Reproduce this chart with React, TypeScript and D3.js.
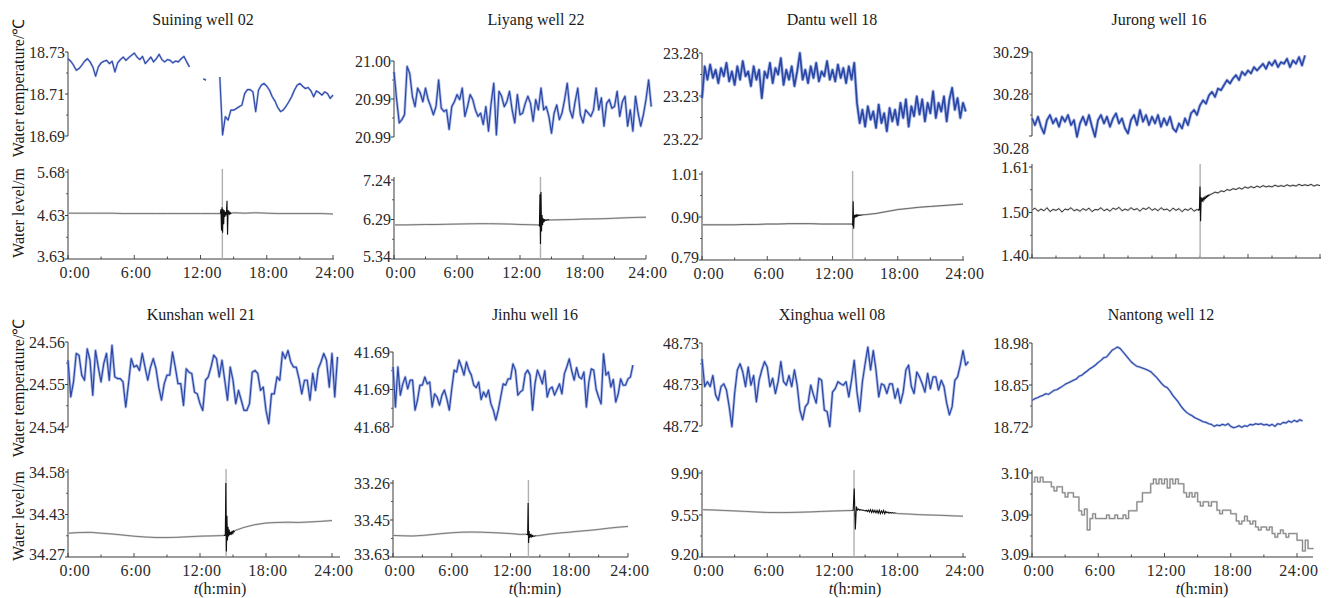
import React from "react";
import * as d3 from "d3";

// ---------------- DATA ----------------
const wellNames = [
  "Suining well 02", "Liyang well 22", "Dantu well 18", "Jurong well 16",
  "Kunshan well 21", "Jinhu well 16", "Xinghua well 08", "Nantong well 12",
];
const timeTickHours = [0, 6, 12, 18, 24];
const timeTickLabels = ["0:00", "6:00", "12:00", "18:00", "24:00"];

const tempTickLabels = [
  ["18.73", "18.71", "18.69"], ["21.00", "20.99", "20.99"], ["23.28", "23.23", "23.22"], ["30.29", "30.28", "30.28"],
  ["24.56", "24.55", "24.54"], ["41.69", "41.69", "41.68"], ["48.73", "48.73", "48.72"], ["18.98", "18.85", "18.72"],
];
const levelTickLabels = [
  ["5.68", "4.63", "3.63"], ["7.24", "6.29", "5.34"], ["1.01", "0.90", "0.79"], ["1.61", "1.50", "1.40"],
  ["34.58", "34.43", "34.27"], ["33.26", "33.45", "33.63"], ["9.90", "9.55", "9.20"], ["3.10", "3.09", "3.09"],
];
// [bottom, top]
const tempDomains = [
  [18.69, 18.73], [20.986, 21.0], [23.22, 23.24], [30.27, 30.29],
  [24.54, 24.56], [41.682, 41.694], [48.722, 48.734], [18.72, 18.98],
];
const levelDomains = [
  [3.63, 5.68], [5.34, 7.24], [0.79, 1.01], [1.4, 1.61],
  [34.27, 34.58], [33.63, 33.26], [9.2, 9.9], [3.086, 3.1],
];
const quakeHours = [13.98, 13.95, 13.85, 14.01, 14.37, 13.83, 13.98, null];

// water temperature, every 0.25 h from 0:00
const suiningTemp = [
  18.7268, 18.7256, 18.7237, 18.7213, 18.7221, 18.7237, 18.7256, 18.7268, 18.7253, 18.7229,
  18.7185, 18.7229, 18.7248, 18.7256, 18.726, 18.7245, 18.7256, 18.7205, 18.7248, 18.7264,
  18.7276, 18.726, 18.7273, 18.7284, 18.7295, 18.7276, 18.7264, 18.7279, 18.7245, 18.726,
  18.7276, 18.7253, 18.7268, 18.7289, 18.7264, 18.7253, 18.7264, 18.726, 18.7248, 18.7257,
  18.7253, 18.7268, 18.7279, 18.7253, 18.7229, null, null, null, null, 18.7173,
  18.7166, null, null, null, null, 18.7181, 18.6905, 18.6992, 18.6976, 18.7023,
  18.7023, 18.7031, 18.7039, 18.7047, 18.7102, 18.7121, 18.7121, 18.711, 18.7016, 18.7118,
  18.7142, 18.715, 18.7137, 18.7118, 18.7087, 18.7066, 18.7036, 18.7016, 18.7024, 18.7042,
  18.7063, 18.7087, 18.7118, 18.7142, 18.715, 18.7137, 18.7126, 18.7131, 18.7115, 18.7087,
  18.7115, 18.7106, 18.7095, 18.711, 18.7102, 18.7079, 18.7095,
];
const liyangTemp = [
  20.998, 20.9929, 20.9886, 20.9892, 20.9901, 20.999, 20.9977, 20.9935, 20.9916, 20.995,
  20.9941, 20.9925, 20.995, 20.9929, 20.9916, 20.9901, 20.9916, 20.9965, 20.9913, 20.9907,
  20.991, 20.9874, 20.9916, 20.9925, 20.9938, 20.9929, 20.995, 20.9898, 20.9916, 20.9938,
  20.9929, 20.991, 20.9898, 20.9904, 20.9883, 20.9916, 20.9871, 20.9922, 20.9959, 20.9864,
  20.9944, 20.9935, 20.9916, 20.9925, 20.9944, 20.991, 20.9886, 20.9938, 20.9901, 20.9904,
  20.9922, 20.9935, 20.9922, 20.9889, 20.9929, 20.991, 20.995, 20.991, 20.9916, 20.9898,
  20.9867, 20.9904, 20.9919, 20.9892, 20.9904, 20.9929, 20.9959, 20.991, 20.9895, 20.9925,
  20.995, 20.9901, 20.9886, 20.991, 20.9904, 20.9898, 20.991, 20.995, 20.991, 20.9932,
  20.988, 20.9922, 20.9929, 20.9913, 20.9916, 20.9944, 20.9898, 20.9925, 20.9935, 20.988,
  20.991, 20.9871, 20.9935, 20.9904, 20.988, 20.9901, 20.9929, 20.9965, 20.9916,
];
const dantuTemp = [
  23.2295, 23.2369, 23.2338, 23.2373, 23.2342, 23.2361, 23.233, 23.2365, 23.2346, 23.2377,
  23.2334, 23.2357, 23.2326, 23.2369, 23.2338, 23.2381, 23.2346, 23.2357, 23.2323, 23.2369,
  23.2338, 23.2361, 23.2295, 23.2357, 23.2342, 23.2377, 23.233, 23.2365, 23.235, 23.2388,
  23.2326, 23.2361, 23.2338, 23.2369, 23.2323, 23.2357, 23.24, 23.2338, 23.2361, 23.233,
  23.2369, 23.2342, 23.2377, 23.2334, 23.2357, 23.2346, 23.2381, 23.2338, 23.2361, 23.2334,
  23.2373, 23.2342, 23.2365, 23.233, 23.2369, 23.2338, 23.2377, 23.2284, 23.2237, 23.2268,
  23.2229, 23.2276, 23.2245, 23.2264, 23.2226, 23.228, 23.2237, 23.226, 23.2218, 23.2272,
  23.2241, 23.2268, 23.2233, 23.2284, 23.2249, 23.2292, 23.2229, 23.2276, 23.2253, 23.2299,
  23.2257, 23.2292, 23.2241, 23.2284, 23.226, 23.2311, 23.2249, 23.2284, 23.2264, 23.2299,
  23.2241, 23.2292, 23.2319, 23.2268, 23.2295, 23.2249, 23.2284, 23.2264,
];
const jurongTemp = [
  30.2742, 30.2726, 30.2746, 30.2722, 30.2706, 30.2738, 30.275, 30.273, 30.2742, 30.2722,
  30.2746, 30.2734, 30.275, 30.2726, 30.2738, 30.2698, 30.273, 30.2746, 30.2726, 30.275,
  30.2722, 30.2698, 30.2738, 30.275, 30.273, 30.2746, 30.2722, 30.2742, 30.2754, 30.273,
  30.2742, 30.2718, 30.2706, 30.2738, 30.275, 30.2726, 30.2762, 30.2734, 30.275, 30.2726,
  30.2746, 30.273, 30.275, 30.2722, 30.2742, 30.2726, 30.2746, 30.2718, 30.271, 30.273,
  30.2718, 30.2742, 30.2726, 30.2754, 30.2762, 30.275, 30.2773, 30.2785, 30.2777, 30.2797,
  30.2805, 30.2793, 30.2813, 30.2809, 30.2821, 30.2833, 30.2825, 30.2837, 30.2845, 30.2833,
  30.2853, 30.2845, 30.2856, 30.2849, 30.2864, 30.2856, 30.2864, 30.2872, 30.286, 30.2876,
  30.2868, 30.288, 30.2864, 30.2876, 30.2872, 30.2884, 30.2864, 30.288, 30.2872, 30.2888,
  30.2868, 30.2892,
];
const kunshanTemp = [
  24.5557, 24.5471, 24.5506, 24.5573, 24.5569, 24.5522, 24.551, 24.5584, 24.5557, 24.5475,
  24.558, 24.5541, 24.5506, 24.5549, 24.5573, 24.551, 24.5592, 24.5518, 24.5514, 24.5514,
  24.5506, 24.5447, 24.5502, 24.5561, 24.5541, 24.5545, 24.5533, 24.5573, 24.5541, 24.551,
  24.5541, 24.5561, 24.5537, 24.5494, 24.5463, 24.5502, 24.5522, 24.5522, 24.5576, 24.5541,
  24.5502, 24.5502, 24.5451, 24.5537, 24.5529, 24.5526, 24.5482, 24.5478, 24.5455, 24.5439,
  24.551, 24.5518, 24.5541, 24.5569, 24.5561, 24.5518, 24.5557, 24.551, 24.5463, 24.5541,
  24.551, 24.5455, 24.5486, 24.5463, 24.5439, 24.5439, 24.5455, 24.5529, 24.5533, 24.5526,
  24.5486, 24.5494, 24.5439, 24.5408, 24.5478, 24.5478, 24.5518, 24.551, 24.5576, 24.5561,
  24.558, 24.5553, 24.5541, 24.5541, 24.5514, 24.5478, 24.551, 24.551, 24.5463, 24.5526,
  24.5486, 24.5537, 24.5553, 24.5573, 24.5557, 24.5494, 24.5573, 24.5471, 24.5565,
];
const jinhuTemp = [
  41.6916, 41.6852, 41.6916, 41.6871, 41.6889, 41.69, 41.6881, 41.6895, 41.6895, 41.6847,
  41.6863, 41.6887, 41.6887, 41.69, 41.6889, 41.6892, 41.6852, 41.6873, 41.6868, 41.6855,
  41.6871, 41.6879, 41.6865, 41.6847, 41.6881, 41.6911, 41.6908, 41.6927, 41.6916, 41.6903,
  41.6924, 41.6911, 41.6903, 41.6887, 41.6883, 41.6892, 41.6864, 41.6876, 41.6868, 41.6879,
  41.6857, 41.6847, 41.6831, 41.6847, 41.6868, 41.6889, 41.6887, 41.6897, 41.6897, 41.6921,
  41.6911, 41.6871, 41.6876, 41.6879, 41.6905, 41.6911, 41.6903, 41.6847, 41.6889, 41.6911,
  41.6901, 41.6889, 41.691, 41.6868, 41.6881, 41.6884, 41.6871, 41.688, 41.6889, 41.6873,
  41.6905, 41.6916, 41.6929, 41.691, 41.6895, 41.6915, 41.69, 41.6897, 41.6908, 41.6852,
  41.6892, 41.6913, 41.6911, 41.688, 41.6868, 41.6857, 41.6937, 41.6903, 41.6908, 41.6884,
  41.6896, 41.686, 41.6873, 41.6897, 41.6887, 41.6887, 41.6897, 41.69, 41.6919,
];
const xinghuaTemp = [
  48.7317, 48.7277, 48.7284, 48.7277, 48.7293, 48.7265, 48.7257, 48.7277, 48.7281, 48.7272,
  48.7248, 48.7219, 48.7267, 48.7301, 48.731, 48.7298, 48.7277, 48.7305, 48.7279, 48.7293,
  48.7255, 48.7286, 48.7301, 48.7313, 48.7305, 48.7277, 48.7289, 48.7267, 48.7284, 48.7313,
  48.7284, 48.7279, 48.7293, 48.7277, 48.7301, 48.7279, 48.7243, 48.7229, 48.7248, 48.7253,
  48.7279, 48.7265, 48.7253, 48.7289, 48.7286, 48.7243, 48.7241, 48.7219, 48.7269, 48.7274,
  48.7284, 48.7281, 48.7279, 48.7284, 48.7262, 48.7286, 48.7315, 48.7269, 48.7241, 48.7284,
  48.731, 48.7334, 48.7301, 48.7329, 48.7301, 48.7262, 48.7281, 48.7279, 48.7267, 48.7281,
  48.7281, 48.726, 48.7274, 48.7253, 48.7269, 48.7301, 48.7308, 48.7277, 48.7267, 48.7298,
  48.7291, 48.7281, 48.7269, 48.7296, 48.7274, 48.7291, 48.7291, 48.7272, 48.7286, 48.7277,
  48.7253, 48.7236, 48.7248, 48.7286, 48.7291, 48.7308, 48.7329, 48.7308, 48.7313,
];
const nantongTemp = [
  18.8025, 18.8077, 18.8108, 18.8149, 18.818, 18.8231, 18.8211, 18.8273, 18.8335, 18.8355,
  18.8407, 18.8458, 18.852, 18.8562, 18.8603, 18.8644, 18.8685, 18.8768, 18.8799, 18.8871,
  18.8933, 18.9005, 18.9057, 18.9119, 18.9201, 18.9263, 18.9346, 18.9367, 18.947, 18.9573,
  18.9625, 18.9676, 18.9625, 18.9521, 18.9418, 18.9315, 18.9212, 18.914, 18.9078, 18.9057,
  18.9026, 18.8995, 18.8954, 18.8912, 18.883, 18.8747, 18.8644, 18.8541, 18.8458, 18.8417,
  18.8314, 18.818, 18.8077, 18.7973, 18.7839, 18.7736, 18.7653, 18.7592, 18.755, 18.7488,
  18.7447, 18.7406, 18.7364, 18.7344, 18.7303, 18.7282, 18.722, 18.7261, 18.7241, 18.7282,
  18.7251, 18.7303, 18.722, 18.7179, 18.7199, 18.7241, 18.7189, 18.7241, 18.722, 18.7282,
  18.7261, 18.7303, 18.7282, 18.7303, 18.7261, 18.7282, 18.7241, 18.7282, 18.722, 18.7303,
  18.7282, 18.7344, 18.7323, 18.7385, 18.7344, 18.7406, 18.7364, 18.7426, 18.7385,
];

// water level: base series (hourly, or every 0.25 h) + dense record around the quake
const suiningLevel = [4.71, 4.71, 4.71, 4.71, 4.71, 4.7, 4.7, 4.7, 4.7, 4.7, 4.7, 4.7, 4.7, 4.7, 4.7, 4.72, 4.71, 4.72, 4.71, 4.7, 4.7, 4.7, 4.7, 4.7, 4.69];
const suiningBurst = [4.7, 4.8, 4.3, 4.85, 4.25, 4.8, 4.45, 4.78, 4.62, 4.74, 4.66, 4.73, 5.0, 4.2, 4.78, 4.68, 4.73, 4.69, 4.72, 4.7, 4.71];
const liyangLevel = [6.16, 6.16, 6.165, 6.17, 6.17, 6.175, 6.18, 6.185, 6.19, 6.19, 6.185, 6.18, 6.17, 6.165, 6.16, 6.28, 6.285, 6.29, 6.3, 6.305, 6.31, 6.32, 6.33, 6.34, 6.345];
const liyangBurst = [6.16, 6.14, 6.9, 5.7, 6.95, 6.0, 6.4, 6.15, 6.32, 6.22, 6.3, 6.26, 6.28, 6.27, 6.28, 6.27, 6.28, 6.28, 6.28, 6.28, 6.28];
const dantuLevel = [0.88, 0.88, 0.88, 0.88, 0.881, 0.881, 0.882, 0.882, 0.883, 0.883, 0.883, 0.882, 0.882, 0.882, 0.882, 0.906, 0.909, 0.914, 0.919, 0.922, 0.925, 0.927, 0.929, 0.931, 0.933];
const dantuBurst = [0.882, 0.88, 0.94, 0.87, 0.905, 0.898, 0.906, 0.9, 0.905, 0.902, 0.905, 0.903, 0.905, 0.904, 0.905, 0.904, 0.905, 0.905, 0.905, 0.905, 0.906];
const jurongLevel = [
  1.511, 1.515, 1.508, 1.513, 1.509, 1.516, 1.507, 1.512, 1.51, 1.514, 1.506, 1.513, 1.511, 1.516, 1.509, 1.512,
  1.508, 1.514, 1.51, 1.515, 1.507, 1.512, 1.511, 1.516, 1.509, 1.513, 1.508, 1.515, 1.512, 1.517, 1.509, 1.513,
  1.51, 1.516, 1.511, 1.514, 1.508, 1.515, 1.512, 1.517, 1.51, 1.514, 1.509, 1.516, 1.511, 1.513, 1.508, 1.515,
  1.51, 1.514, 1.507, 1.513, 1.51, 1.515, 1.508, 1.512, 1.54, 1.538, 1.542, 1.544,
  1.548, 1.552, 1.55, 1.555, 1.553, 1.558, 1.556, 1.56, 1.558, 1.562, 1.559, 1.564, 1.561, 1.565, 1.562, 1.566,
  1.563, 1.567, 1.564, 1.566, 1.564, 1.568, 1.565, 1.567, 1.565, 1.569, 1.566, 1.568, 1.566, 1.57, 1.567, 1.569,
  1.567, 1.57, 1.566, 1.569, 1.567,
];
const jurongBurst = [1.511, 1.512, 1.51, 1.512, 1.565, 1.485, 1.54, 1.53, 1.536, 1.532, 1.538, 1.535, 1.54, 1.538, 1.542, 1.54, 1.544, 1.542, 1.545, 1.544, 1.546];
const kunshanLevel = [34.357, 34.359, 34.36, 34.357, 34.354, 34.35, 34.346, 34.343, 34.341, 34.341, 34.342, 34.344, 34.346, 34.347, 34.348, 34.366, 34.378, 34.388, 34.394, 34.396, 34.397, 34.396, 34.398, 34.4, 34.403];
const kunshanBurst = [34.348, 34.349, 34.349, 34.35, 34.54, 34.29, 34.42, 34.33, 34.38, 34.345, 34.37, 34.35, 34.362, 34.352, 34.36, 34.355, 34.362, 34.358, 34.365, 34.362, 34.366];
const jinhuLevel = [33.522, 33.524, 33.525, 33.522, 33.518, 33.513, 33.509, 33.506, 33.505, 33.506, 33.508, 33.51, 33.513, 33.517, 33.525, 33.522, 33.515, 33.51, 33.506, 33.501, 33.497, 33.492, 33.486, 33.481, 33.477];
const jinhuBurst = [33.516, 33.517, 33.518, 33.519, 33.36, 33.56, 33.5, 33.535, 33.515, 33.53, 33.52, 33.528, 33.522, 33.527, 33.524, 33.526, 33.525, 33.526, 33.525, 33.524, 33.524];
const xinghuaLevel = [9.594, 9.592, 9.588, 9.584, 9.58, 9.575, 9.571, 9.57, 9.571, 9.573, 9.576, 9.58, 9.583, 9.586, 9.588, 9.585, 9.578, 9.572, 9.562, 9.558, 9.553, 9.55, 9.547, 9.543, 9.54];
const xinghuaBurst = [
  9.588, 9.59, 9.77, 9.43, 9.62, 9.59, 9.6, 9.59, 9.595, 9.59, 9.592, 9.588, 9.585, 9.59, 9.578, 9.592, 9.575, 9.595,
  9.57, 9.592, 9.572, 9.59, 9.568, 9.588, 9.565, 9.59, 9.562, 9.585, 9.565, 9.588, 9.56, 9.58, 9.568, 9.575, 9.565,
  9.572, 9.566, 9.57, 9.565, 9.568, 9.565,
];
const nantongLevel = [
  3.0985, 3.0993, 3.0985, 3.0993, 3.0985, 3.0985, 3.0985, 3.0977, 3.097, 3.0977,
  3.0977, 3.0967, 3.096, 3.0967, 3.0967, 3.096, 3.096, 3.0937, 3.093, 3.094,
  3.0905, 3.0924, 3.0932, 3.0924, 3.0924, 3.0924, 3.0924, 3.093, 3.0924, 3.0924,
  3.093, 3.0924, 3.0924, 3.093, 3.0924, 3.0937, 3.0937, 3.0937, 3.0952, 3.0952,
  3.0967, 3.0967, 3.0967, 3.0982, 3.099, 3.0982, 3.099, 3.0982, 3.099, 3.0975,
  3.099, 3.0982, 3.099, 3.0982, 3.0982, 3.0967, 3.096, 3.0967, 3.096, 3.0967,
  3.0952, 3.0945, 3.0952, 3.0952, 3.0945, 3.0952, 3.0952, 3.0938, 3.0932, 3.0938,
  3.0938, 3.0938, 3.0932, 3.0932, 3.092, 3.0915, 3.092, 3.0928, 3.092, 3.0915,
  3.092, 3.091, 3.0905, 3.091, 3.091, 3.0905, 3.091, 3.0899, 3.0893, 3.0899,
  3.0905, 3.0899, 3.0893, 3.0899, 3.0899, 3.0899, 3.0888, 3.0888, 3.087, 3.0888,
  3.0874, 3.0874, 3.0874,
];

const tempSeries = [suiningTemp, liyangTemp, dantuTemp, jurongTemp, kunshanTemp, jinhuTemp, xinghuaTemp, nantongTemp];
const levelSeries = [suiningLevel, liyangLevel, dantuLevel, jurongLevel, kunshanLevel, jinhuLevel, xinghuaLevel, nantongLevel];
const burstSeries = [suiningBurst, liyangBurst, dantuBurst, jurongBurst, kunshanBurst, jinhuBurst, xinghuaBurst, null];
const levelStepHours = [1, 1, 1, 0.25, 1, 1, 1, 0.25];
const burstStartHours = [13.8, 13.8, 13.8, 13.8, 14.15, 13.6, 13.8, null];
const burstStepHours = [0.05, 0.05, 0.05, 0.05, 0.05, 0.05, 0.1, null];
const TEMP_STEP = 0.25;

// ---------------- LAYOUT / STYLE ----------------
type Lay = {
  ax: number; x0: number; x1: number; xEnd: number;
  tT: number; tB: number; lT: number; lB: number;
  titleX: number; titleY: number; xLabels: boolean; xTickEvery: number;
  tempBottomLabelY?: number; xTitleX?: number; stepLevel?: boolean;
  tw: number; tu: number; levelColor: string;
};
const LAYOUT: Lay[] = [
  { ax: 68, x0: 68, x1: 333, xEnd: 334, tT: 52, tB: 136, lT: 172, lB: 259, titleX: 203, titleY: 25, xLabels: true, xTickEvery: 3, tw: 1.1, tu: 2.2, levelColor: "#6e6e6e" },
  { ax: 394, x0: 394, x1: 646, xEnd: 646, tT: 61, tB: 137, lT: 180, lB: 259, titleX: 536, titleY: 25, xLabels: true, xTickEvery: 3, tw: 1.2, tu: 2.8, levelColor: "#6e6e6e" },
  { ax: 702, x0: 702, x1: 963, xEnd: 964, tT: 53, tB: 139, lT: 174, lB: 260, titleX: 832, titleY: 25, xLabels: true, xTickEvery: 3, tw: 1.7, tu: 3.4, levelColor: "#5a5a5a" },
  { ax: 1032, x0: 1032, x1: 1320, xEnd: 1321, tT: 52, tB: 136, lT: 167, lB: 258, titleX: 1159, titleY: 25, xLabels: false, xTickEvery: 2, tempBottomLabelY: 148, tw: 1.6, tu: 3.2, levelColor: "#262626" },
  { ax: 68, x0: 68, x1: 332, xEnd: 340, tT: 342, tB: 427, lT: 472, lB: 557, titleX: 201, titleY: 320, xLabels: true, xTickEvery: 3, xTitleX: 220, tw: 1.2, tu: 2.8, levelColor: "#707070" },
  { ax: 393, x0: 393, x1: 628, xEnd: 628, tT: 352, tB: 427, lT: 483, lB: 557, titleX: 535, titleY: 320, xLabels: true, xTickEvery: 3, xTitleX: 535, tw: 1.2, tu: 2.8, levelColor: "#707070" },
  { ax: 702, x0: 702, x1: 963, xEnd: 966, tT: 343, tB: 426, lT: 473, lB: 557, titleX: 832, titleY: 320, xLabels: true, xTickEvery: 3, xTitleX: 855, tw: 1.2, tu: 2.8, levelColor: "#707070" },
  { ax: 1032, x0: 1032, x1: 1297, xEnd: 1313, tT: 343, tB: 427, lT: 473, lB: 557, titleX: 1161, titleY: 320, xLabels: true, xTickEvery: 3, xTitleX: 1202, stepLevel: true, tw: 1.1, tu: 2.4, levelColor: "#7a7a7a" },
];

const FONT = "'Liberation Serif', 'Times New Roman', Times, serif";
const AXIS = "#3a3a3a";
const BLUE = "#2b47a6";
const BLUE_LIGHT = "#8fa3de";

type Pt = [number, number | null];

function Panel({ i }: { i: number }) {
  const L = LAYOUT[i];
  const x = d3.scaleLinear().domain([0, 24]).range([L.x0, L.x1]);
  const yT = d3.scaleLinear().domain(tempDomains[i]).range([L.tB, L.tT]);
  const yL = d3.scaleLinear().domain(levelDomains[i]).range([L.lB, L.lT]);

  const tempPts: Pt[] = tempSeries[i].map((v, k) => [k * TEMP_STEP, v]);
  const lineT = d3.line<Pt>().defined((p) => p[1] != null).x((p) => x(p[0])).y((p) => yT(p[1] as number));
  const lineL = d3.line<Pt>().x((p) => x(p[0])).y((p) => yL(p[1] as number))
    .curve(L.stepLevel ? d3.curveStepAfter : d3.curveLinear);

  const base: Pt[] = levelSeries[i].map((v, k) => [k * levelStepHours[i], v]);
  let before: Pt[] = base;
  let after: Pt[] = [];
  let burst: Pt[] = [];
  const b = burstSeries[i];
  if (b) {
    const s = burstStartHours[i] as number;
    const st = burstStepHours[i] as number;
    burst = b.map((v, k) => [s + k * st, v]);
    const end = burst[burst.length - 1][0];
    before = [...base.filter((p) => p[0] < s), burst[0]];
    after = [burst[burst.length - 1], ...base.filter((p) => p[0] > end)];
  }

  const tLabels = tempTickLabels[i];
  const lLabels = levelTickLabels[i];
  const tYs = [L.tT, (L.tT + L.tB) / 2, L.tempBottomLabelY ?? L.tB];
  const lYs = [L.lT, (L.lT + L.lB) / 2, L.lB];
  const tMinor = [0.25, 0.75].map((f) => L.tT + f * (L.tB - L.tT));
  const lMinor = [0.25, 0.75].map((f) => L.lT + f * (L.lB - L.lT));
  const xTicks = d3.range(0, 24.001, L.xTickEvery);
  const q = quakeHours[i];
  const tempD = lineT(tempPts) || "";

  return (
    <g>
      <text x={L.titleX} y={L.titleY} textAnchor="middle" fontSize={16} fill="#1a1a1a">{wellNames[i]}</text>

      {/* temperature axis */}
      <line x1={L.ax} x2={L.ax} y1={L.tT} y2={L.tB} stroke={AXIS} strokeWidth={1} />
      {[L.tT, (L.tT + L.tB) / 2, L.tB].map((y, k) => (
        <line key={"tt" + k} x1={L.ax - 3} x2={L.ax} y1={y} y2={y} stroke={AXIS} strokeWidth={1} />
      ))}
      {tMinor.map((y, k) => <line key={"tm" + k} x1={L.ax - 2} x2={L.ax} y1={y} y2={y} stroke={AXIS} strokeWidth={0.8} />)}
      {tLabels.map((s, k) => (
        <text key={"tl" + k} x={L.ax - 3} y={tYs[k]} dy="0.35em" textAnchor="end" fontSize={16} fill="#2a2a2a">{s}</text>
      ))}

      {/* level axis */}
      <line x1={L.ax} x2={L.ax} y1={L.lT - 3} y2={L.lB} stroke={AXIS} strokeWidth={1} />
      <line x1={L.ax} x2={L.xEnd} y1={L.lB} y2={L.lB} stroke={AXIS} strokeWidth={1} />
      {lYs.map((y, k) => <line key={"lt" + k} x1={L.ax - 3} x2={L.ax} y1={y} y2={y} stroke={AXIS} strokeWidth={1} />)}
      {lMinor.map((y, k) => <line key={"lm" + k} x1={L.ax - 2} x2={L.ax} y1={y} y2={y} stroke={AXIS} strokeWidth={0.8} />)}
      {lLabels.map((s, k) => (
        <text key={"ll" + k} x={L.ax - 3} y={lYs[k]} dy={k === 2 ? "0.2em" : "0.35em"} textAnchor="end" fontSize={16} fill="#2a2a2a">{s}</text>
      ))}
      {xTicks.map((h, k) => (
        <line key={"xt" + k} x1={x(h)} x2={x(h)} y1={L.lB} y2={L.lB - (h % 6 === 0 ? 4 : 2.5)} stroke={AXIS} strokeWidth={0.9} />
      ))}
      {L.xLabels && timeTickHours.map((h, k) => (
        <text key={"xl" + k} x={x(h) + (k === 0 ? 7 : 2)} y={L.lB + 19} textAnchor="middle" fontSize={16} fill="#2a2a2a" letterSpacing={0.6}>{timeTickLabels[k]}</text>
      ))}
      {L.xTitleX != null && (
        <text x={L.xTitleX} y={594} textAnchor="middle" fontSize={16} fill="#1a1a1a">
          <tspan fontStyle="italic">t</tspan>(h:min)
        </text>
      )}

      {/* quake marker */}
      {q != null && (
        <line x1={x(q)} x2={x(q)} y1={L.lT - 3} y2={L.lB} stroke="#b0b0b0" strokeWidth={1.4} />
      )}

      {/* temperature */}
      <path d={tempD} fill="none" stroke={BLUE_LIGHT} strokeWidth={L.tu} strokeOpacity={0.7} strokeLinejoin="round" />
      <path d={tempD} fill="none" stroke={BLUE} strokeWidth={L.tw} strokeLinejoin="round" />

      {/* water level */}
      <path d={lineL(before) || ""} fill="none" stroke="#d2d2d2" strokeWidth={2} />
      <path d={lineL(before) || ""} fill="none" stroke={L.levelColor} strokeWidth={0.9} />
      {after.length > 0 && <path d={lineL(after) || ""} fill="none" stroke="#d2d2d2" strokeWidth={2} />}
      {after.length > 0 && <path d={lineL(after) || ""} fill="none" stroke={L.levelColor} strokeWidth={0.9} />}
      {burst.length > 0 && <path d={lineL(burst) || ""} fill="none" stroke="#111" strokeWidth={1.1} />}
    </g>
  );
}

export default function App() {
  return (
    <svg width={1330} height={598} fontFamily={FONT}
      style={{ position: "absolute", left: 0, top: 0, background: "#fff", display: "block" }}>
      <rect x={0} y={0} width={1330} height={598} fill="#fff" />
      {LAYOUT.map((_, i) => <Panel key={i} i={i} />)}
      <text transform="translate(24,88) rotate(-90)" textAnchor="middle" fontSize={16} fill="#1a1a1a">Water temperature/℃</text>
      <text transform="translate(24,213) rotate(-90)" textAnchor="middle" fontSize={16} fill="#1a1a1a">Water level/m</text>
      <text transform="translate(24,388) rotate(-90)" textAnchor="middle" fontSize={16} fill="#1a1a1a">Water temperature/℃</text>
      <text transform="translate(24,516) rotate(-90)" textAnchor="middle" fontSize={16} fill="#1a1a1a">Water level/m</text>
    </svg>
  );
}
